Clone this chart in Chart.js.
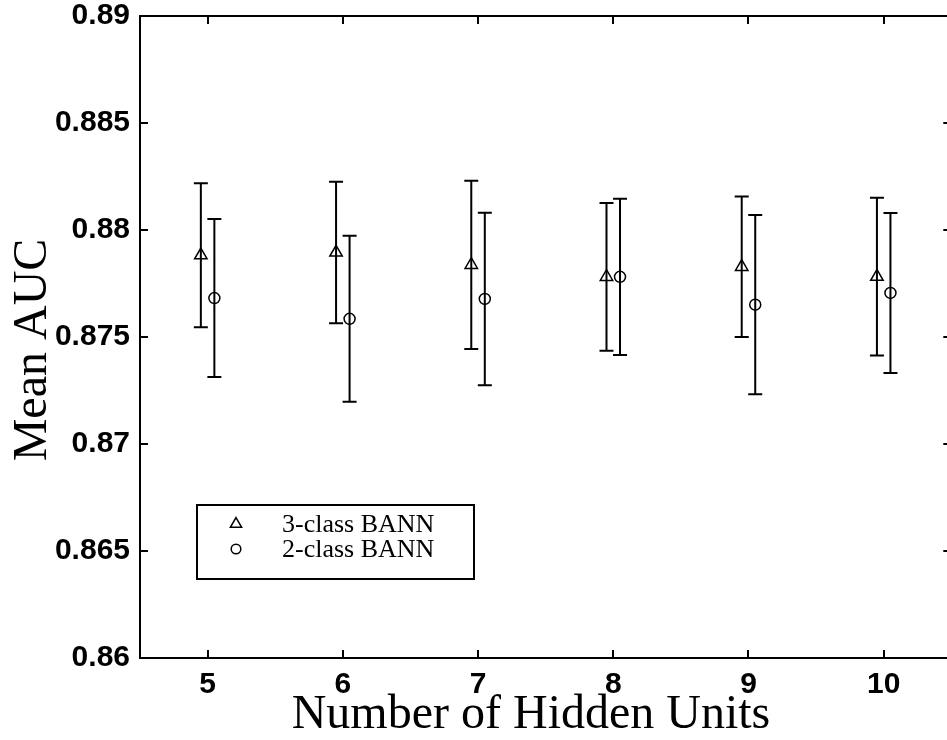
<!DOCTYPE html>
<html>
<head>
<meta charset="utf-8">
<script src="https://cdn.jsdelivr.net/npm/chart.js@4.4.1/dist/chart.umd.min.js"></script>
<style>
  html,body{margin:0;padding:0;background:#fff;overflow:hidden;}
  #wrap{width:960px;height:740px;}
</style>
</head>
<body>
<div id="wrap"><canvas id="aucChart" width="960" height="740"></canvas></div>
<script>
// values
const hiddenUnits = [5, 6, 7, 8, 9, 10];
const mean3class = [0.87882, 0.87895, 0.87837, 0.87781, 0.87828, 0.87782];
const err3class  = [0.00337, 0.00331, 0.00393, 0.00345, 0.00328, 0.00369];
const mean2class = [0.87682, 0.87585, 0.87678, 0.87781, 0.87651, 0.87706];
const err2class  = [0.00369, 0.00388, 0.00403, 0.00365, 0.00419, 0.00374];
const yTicks = [0.86, 0.865, 0.87, 0.875, 0.88, 0.885, 0.89];
const yTickLabels = ['0.86', '0.865', '0.87', '0.875', '0.88', '0.885', '0.89'];
const xTickLabels = ['5', '6', '7', '8', '9', '10'];
const xTitle = 'Number of Hidden Units';
const yTitle = 'Mean AUC';

const seriesOffset = 0.05;
const tickFont = {family:'"Liberation Sans", Arial, sans-serif', size:30, weight:'bold'};
const titleCss = '48px "Liberation Serif", "Times New Roman", serif';

function makePoints(means, errs, offset){
  return hiddenUnits.map((u, i) => ({x: u + offset, y: means[i], err: errs[i]}));
}

// vertical error bars with caps, drawn through the chart scales
const errorBars = {
  id:'errorBars',
  beforeDatasetsDraw(chart){
    const {ctx, scales:{x, y}} = chart;
    ctx.save();
    ctx.strokeStyle = '#000';
    ctx.lineWidth = 2;
    chart.data.datasets.forEach(ds => {
      ds.data.forEach(p => {
        const px = x.getPixelForValue(p.x);
        const top = y.getPixelForValue(p.y + p.err);
        const bot = y.getPixelForValue(p.y - p.err);
        ctx.beginPath();
        ctx.moveTo(px, top); ctx.lineTo(px, bot);
        ctx.moveTo(px - 7, top); ctx.lineTo(px + 7, top);
        ctx.moveTo(px - 7, bot); ctx.lineTo(px + 7, bot);
        ctx.stroke();
      });
    });
    ctx.restore();
  }
};

// matlab-style box with inward ticks, plus axis titles
const boxAxes = {
  id:'boxAxes',
  afterDraw(chart){
    const {ctx, chartArea:a, scales:{x, y}} = chart;
    ctx.save();
    ctx.strokeStyle = '#000';
    ctx.lineWidth = 2;
    ctx.strokeRect(a.left, a.top, a.right - a.left, a.bottom - a.top);
    ctx.beginPath();
    x.ticks.forEach(t => {
      const px = Math.round(x.getPixelForValue(t.value));
      ctx.moveTo(px, a.bottom); ctx.lineTo(px, a.bottom - 8);
      ctx.moveTo(px, a.top); ctx.lineTo(px, a.top + 8);
    });
    y.ticks.forEach(t => {
      const py = Math.round(y.getPixelForValue(t.value));
      ctx.moveTo(a.left, py); ctx.lineTo(a.left + 8, py);
      ctx.moveTo(a.right, py); ctx.lineTo(a.right - 8, py);
    });
    ctx.stroke();

    ctx.fillStyle = '#000';
    ctx.font = titleCss;
    ctx.textAlign = 'center';
    ctx.textBaseline = 'alphabetic';
    ctx.fillText(xTitle, 531, 728);
    ctx.translate(46, 350);
    ctx.rotate(-Math.PI / 2);
    ctx.fillText(yTitle, 0, 0);
    ctx.restore();
  }
};

// legend box inside the axes, lower left
const boxLegend = {
  id:'boxLegend',
  afterDraw(chart){
    const {ctx} = chart;
    const bx = 197, by = 505, bw = 277, bh = 74;
    ctx.save();
    ctx.fillStyle = '#fff';
    ctx.fillRect(bx, by, bw, bh);
    ctx.strokeStyle = '#000';
    ctx.lineWidth = 2;
    ctx.strokeRect(bx, by, bw, bh);
    ctx.font = '26px "Liberation Serif", "Times New Roman", serif';
    ctx.textBaseline = 'middle';
    chart.data.datasets.forEach((ds, i) => {
      const cy = by + 19 + i * 25;
      ctx.fillStyle = 'rgba(0,0,0,0)';
      ctx.strokeStyle = '#000';
      ctx.lineWidth = 1.5;
      Chart.helpers.drawPoint(ctx, {
        pointStyle: ds.pointStyle, radius: ds.pointRadius - 0.7, rotation: 0,
        borderWidth: 1.5
      }, bx + 39, cy);
      ctx.fillStyle = '#000';
      ctx.fillText(ds.label, bx + 85, cy + 1);
    });
    ctx.restore();
  }
};

new Chart(document.getElementById('aucChart'), {
  type:'scatter',
  data:{
    datasets:[
      {label:'3-class BANN', data:makePoints(mean3class, err3class, -seriesOffset),
       pointStyle:'triangle', pointRadius:7.2, borderColor:'#000', backgroundColor:'rgba(0,0,0,0)', borderWidth:1.5},
      {label:'2-class BANN', data:makePoints(mean2class, err2class, seriesOffset),
       pointStyle:'circle', pointRadius:5.5, borderColor:'#000', backgroundColor:'rgba(0,0,0,0)', borderWidth:1.5}
    ]
  },
  options:{
    responsive:false,
    animation:false,
    layout:{padding:{left:0, right:6, top:16, bottom:0}},
    plugins:{legend:{display:false}, tooltip:{enabled:false}},
    scales:{
      x:{
        type:'linear', min:4.5, max:10.5,
        afterBuildTicks: s => { s.ticks = hiddenUnits.map(v => ({value:v})); },
        afterFit: s => { s.height = 82; s.paddingLeft = 0; s.paddingRight = 0; },
        grid:{display:false, drawTicks:false},
        border:{display:false},
        ticks:{color:'#000', font:tickFont, padding:9,
               callback:(v) => xTickLabels[hiddenUnits.indexOf(v)]}
      },
      y:{
        type:'linear', min:0.86, max:0.89,
        afterBuildTicks: s => { s.ticks = yTicks.map(v => ({value:v})); },
        afterFit: s => { s.width = 140; s.paddingTop = 0; s.paddingBottom = 0; },
        grid:{display:false, drawTicks:false},
        border:{display:false},
        ticks:{color:'#000', font:tickFont, padding:10,
               callback:(v) => yTickLabels[yTicks.findIndex(t => Math.abs(t - v) < 1e-9)]}
      }
    }
  },
  plugins:[errorBars, boxAxes, boxLegend]
});
</script>
</body>
</html>
